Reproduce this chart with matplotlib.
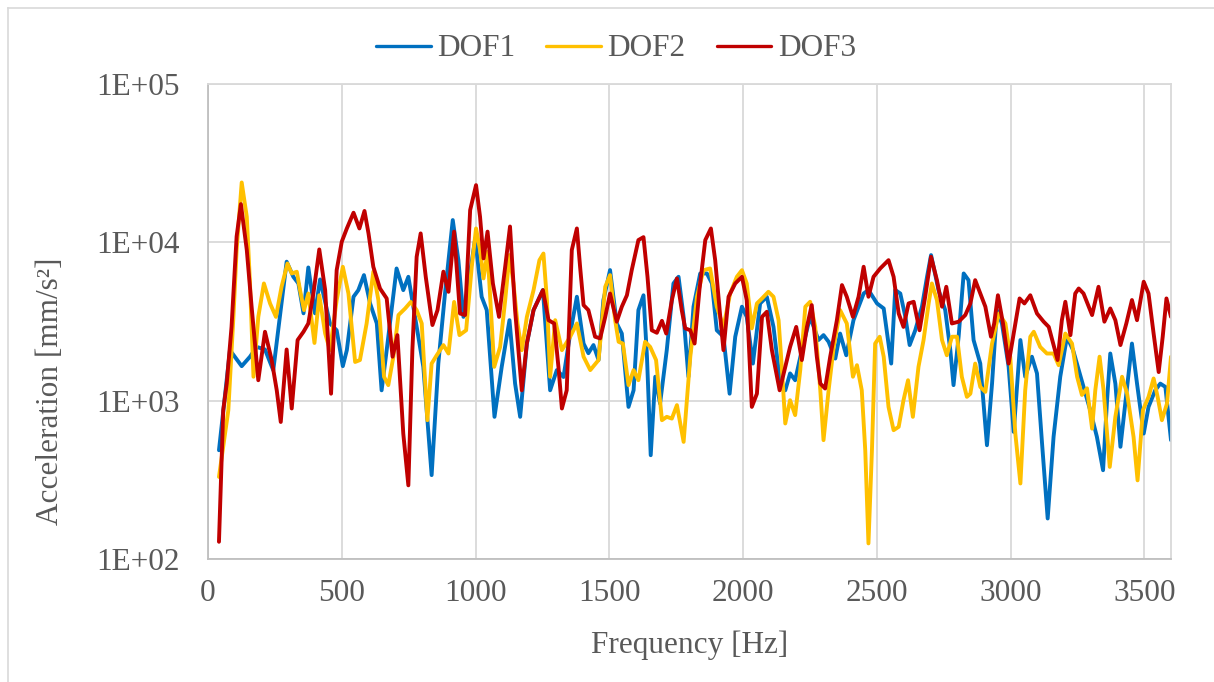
import math
import matplotlib
matplotlib.use("Agg")
import matplotlib.pyplot as plt
from matplotlib.ticker import FixedLocator, FuncFormatter
from matplotlib.lines import Line2D

# ---------------- data ----------------
f1 = [41, 82, 126, 157, 182, 213, 244, 294, 319, 338, 357, 375, 400, 419, 456, 481, 504, 519, 544, 562, 583, 606, 631,
      649, 668, 705, 730, 749, 780, 805, 836, 861, 886, 915, 936, 955, 999, 1023, 1042, 1071, 1098, 1127, 1148, 1167,
      1192, 1217, 1252, 1279, 1304, 1329, 1354, 1379, 1404, 1422, 1441, 1460, 1478, 1503, 1528, 1547, 1572, 1591, 1609,
      1628, 1641, 1655, 1672, 1690, 1715, 1740, 1759, 1778, 1796, 1815, 1840, 1865, 1884, 1902, 1927, 1950, 1971, 1996,
      2014, 2037, 2064, 2089, 2114, 2139, 2158, 2176, 2195, 2220, 2251, 2282, 2301, 2320, 2345, 2363, 2386, 2413, 2451,
      2469, 2501, 2526, 2554, 2569, 2588, 2607, 2623, 2644, 2669, 2688, 2703, 2731, 2756, 2775, 2787, 2806, 2825, 2843,
      2862, 2887, 2912, 2931, 2949, 2968, 2993, 3012, 3037, 3055, 3080, 3099, 3118, 3139, 3161, 3186, 3211, 3234, 3255,
      3273, 3298, 3323, 3346, 3361, 3373, 3392, 3411, 3429, 3454, 3473, 3498, 3516, 3541, 3560, 3579, 3600]
dof1 = [488, 2090, 1656, 1900, 2190, 2110, 1560, 7560, 6070, 5510, 3570, 6950, 3570, 5840, 3080, 2790, 1656, 2090,
        4540, 5000, 6220, 4120, 3080, 1166, 2090, 6850, 5000, 6070, 2930, 1640, 340, 1720, 4770, 13840, 7720, 3390,
        10600, 4540, 3740, 793, 1640, 3230, 1285, 793, 2300, 3740, 5010, 1166, 1564, 1415, 2660, 4540, 2300, 2000, 2250,
        1810, 4320, 6690, 3080, 2660, 916, 1166, 3740, 4640, 1900, 454, 1420, 962, 2090, 5510, 6070, 3390, 1420, 3930,
        6370, 6370, 5510, 2790, 2540, 1110, 2540, 3930, 3390, 1720, 4120, 4540, 2930, 1285, 1166, 1490, 1350, 2090, 3390,
        2420, 2600, 2360, 1850, 2660, 1940, 3230, 4760, 5010, 4120, 3830, 1720, 5010, 4760, 3390, 2250, 2790, 3930, 6070,
        8320, 5000, 3740, 2090, 1257, 2540, 6370, 5780, 2420, 1720, 525, 1285, 3740, 3080, 1640, 637, 2420, 1420, 1900,
        1490, 537, 181, 593, 1420, 2540, 2090, 1564, 1225, 873, 593, 365, 1010, 1990, 1285, 513, 962, 2300, 1285, 622,
        916, 1166, 1285, 1225, 565]

f2 = [41, 76, 95, 107, 126, 145, 157, 170, 188, 209, 232, 254, 275, 297, 313, 332, 344, 359, 375, 398, 416, 438, 456,
      481, 504, 525, 550, 568, 593, 618, 637, 658, 674, 693, 712, 737, 758, 780, 799, 820, 836, 855, 880, 899, 920, 940,
      965, 986, 1002, 1017, 1030, 1045, 1057, 1070, 1092, 1111, 1127, 1142, 1157, 1173, 1192, 1217, 1239, 1254, 1267,
      1279, 1298, 1323, 1354, 1379, 1404, 1429, 1460, 1485, 1503, 1522, 1535, 1551, 1572, 1591, 1609, 1634, 1653, 1675,
      1697, 1715, 1734, 1753, 1778, 1803, 1828, 1852, 1877, 1902, 1927, 1952, 1977, 1996, 2014, 2033, 2052, 2071, 2095,
      2114, 2133, 2145, 2158, 2176, 2195, 2214, 2233, 2251, 2270, 2289, 2301, 2320, 2339, 2363, 2388, 2411, 2426, 2444,
      2457, 2469, 2482, 2494, 2511, 2526, 2544, 2563, 2582, 2600, 2617, 2635, 2656, 2675, 2694, 2706, 2725, 2744, 2762,
      2781, 2800, 2818, 2837, 2850, 2868, 2887, 2906, 2931, 2956, 2981, 2999, 3018, 3037, 3055, 3074, 3087, 3111, 3136,
      3161, 3180, 3205, 3230, 3249, 3267, 3286, 3305, 3317, 3333, 3348, 3371, 3392, 3417, 3436, 3460, 3475, 3495, 3516,
      3535, 3550, 3566, 3585, 3600]
dof2 = [331, 873, 3390, 8960, 23900, 14500, 5510, 1420, 3390, 5510, 4120, 3390, 5250, 7360, 6370, 6530, 5000, 3740,
        4760, 2320, 4640, 2660, 2090, 4320, 7020, 4760, 1760, 1810, 3080, 6540, 4320, 1420, 1257, 1900, 3480, 3830,
        4210, 3740, 3080, 755, 1720, 1940, 2250, 1990, 4210, 2600, 2790, 7020, 12250, 8960, 5930, 8730, 3930, 1640,
        2190, 4320, 8320, 5510, 3080, 2090, 3390, 5000, 7730, 8510, 4320, 1420, 3230, 2090, 2540, 3080, 1900, 1564,
        1810, 5250, 6220, 3230, 2360, 2300, 1257, 1564, 1350, 2360, 2190, 1810, 755, 793, 773, 940, 551, 1900, 4540,
        6680, 6850, 3930, 2930, 4760, 6070, 6680, 5510, 2870, 4120, 4430, 4880, 4540, 3230, 1640, 720, 1010, 813, 1564,
        3930, 4220, 2930, 1166, 565, 1166, 2190, 3740, 3080, 1420, 1680, 1166, 488, 126, 488, 2300, 2540, 1900, 916,
        653, 686, 1010, 1350, 793, 1640, 2420, 4120, 5510, 4320, 2420, 1940, 2540, 2540, 1420, 1060, 1110, 1720, 1225,
        1140, 2300, 3560, 3080, 1900, 622, 301, 1166, 2540, 2730, 2190, 1990, 1990, 1680, 2660, 2300, 1420, 1090, 1200,
        668, 1166, 1900, 1166, 383, 793, 1420, 1110, 593, 315, 873, 1060, 1385, 1060, 755, 962, 1900]

f3 = [41, 57, 70, 88, 107, 123, 145, 163, 188, 213, 238, 257, 272, 294, 313, 335, 357, 375, 394, 416, 438, 460, 481,
      500, 519, 544, 566, 585, 600, 618, 643, 668, 690, 708, 730, 749, 764, 780, 795, 814, 839, 858, 880, 899, 920, 942,
      961, 980, 1002, 1017, 1030, 1045, 1065, 1088, 1111, 1129, 1148, 1173, 1192, 1217, 1252, 1273, 1294, 1310, 1323,
      1341, 1360, 1379, 1391, 1404, 1422, 1447, 1466, 1485, 1503, 1528, 1547, 1566, 1584, 1609, 1628, 1643, 1659, 1678,
      1697, 1713, 1734, 1753, 1771, 1784, 1803, 1819, 1837, 1859, 1880, 1896, 1915, 1927, 1946, 1971, 1996, 2014, 2033,
      2052, 2071, 2089, 2108, 2137, 2158, 2176, 2199, 2220, 2239, 2257, 2276, 2289, 2307, 2326, 2351, 2370, 2388, 2411,
      2432, 2451, 2469, 2488, 2513, 2544, 2563, 2582, 2600, 2619, 2638, 2660, 2681, 2703, 2725, 2744, 2760, 2781, 2806,
      2831, 2850, 2868, 2887, 2906, 2927, 2939, 2953, 2972, 2993, 3012, 3034, 3052, 3074, 3099, 3124, 3143, 3161, 3176,
      3192, 3205, 3224, 3242, 3255, 3273, 3305, 3329, 3351, 3373, 3392, 3411, 3433, 3454, 3473, 3498, 3516, 3535, 3554,
      3569, 3583, 3600]
dof3 = [129, 873, 1285, 2930, 10900, 17450, 8960, 3930, 1350, 2730, 1810, 1166, 736, 2110, 895, 2420, 2730, 3080,
        4760, 9030, 5000, 1110, 6680, 10100, 12250, 15400, 12250, 15800, 11400, 7020, 5120, 4430, 1900, 2600, 622, 293,
        2090, 8110, 11400, 6070, 3010, 3740, 6540, 4880, 11700, 3560, 3480, 16000, 23000, 14500, 7930, 11700, 5510,
        3390, 7020, 12600, 3740, 1166, 2300, 3740, 5000, 3230, 3080, 1640, 895, 1166, 8960, 12250, 7020, 4020, 3740,
        2540, 2480, 3390, 4760, 3160, 3930, 4640, 6680, 10350, 10800, 6070, 2790, 2690, 3200, 2660, 4320, 5930, 3740,
        2870, 2790, 2300, 5000, 10350, 12250, 7730, 3390, 2090, 4540, 5510, 6070, 4320, 916, 1110, 3390, 3650, 2090,
        1166, 1640, 2190, 2930, 1810, 2930, 4020, 1900, 1285, 1197, 1900, 3230, 5380, 4540, 3390, 4540, 7020, 4540,
        6070, 6850, 7730, 6070, 3560, 2930, 4120, 4220, 2790, 4540, 8120, 5780, 3930, 5250, 3080, 3160, 3480, 4120,
        5780, 4760, 3930, 2540, 3080, 4640, 3080, 1720, 2660, 4430, 4120, 4640, 3560, 3160, 2930, 2250, 1810, 3230,
        4220, 2600, 4760, 5120, 4760, 3480, 5250, 3160, 3830, 3230, 2250, 3080, 4330, 3230, 5650, 4760, 2660, 1520,
        2540, 4430, 3390]

series = [("DOF1", f1, dof1, "#0070C0"),
          ("DOF2", f2, dof2, "#FFC000"),
          ("DOF3", f3, dof3, "#C00000")]

x_ticks = [0, 500, 1000, 1500, 2000, 2500, 3000, 3500]
y_ticks = [1e2, 1e3, 1e4, 1e5]

# ---------------- plot ----------------
plt.rcParams['font.family'] = ['Liberation Serif', 'DejaVu Serif']
txt = "#595959"
FS = 22.5
W, H = 1214, 682
fig = plt.figure(figsize=(W / 100, H / 100), dpi=100)
ax = fig.add_axes([208 / W, 1 - 559.3 / H, (1171 - 208) / W, (559.3 - 84) / H])

for name, f, v, c in series:
    ax.plot(f, v, color=c, lw=2.8, label=name, solid_joinstyle='round', solid_capstyle='round')

ax.set_yscale('log')
ax.set_xlim(0, 3600)
ax.set_ylim(1e2, 1e5)
ax.xaxis.set_major_locator(FixedLocator(x_ticks))
ax.yaxis.set_major_locator(FixedLocator(y_ticks))
ax.yaxis.set_minor_locator(FixedLocator([]))
ax.yaxis.set_major_formatter(FuncFormatter(lambda v, p: "1E+%02d" % round(math.log10(v))))
ax.grid(True, which='major', color='#D9D9D9', lw=1.3)
ax.set_axisbelow(True)
for s in ax.spines.values():
    s.set_color('#D9D9D9')
    s.set_linewidth(1.3)
ax.spines['left'].set_color('#BFBFBF')
ax.spines['bottom'].set_color('#BFBFBF')
ax.tick_params(axis='x', which='both', length=0, labelsize=FS, colors=txt, pad=14)
ax.tick_params(axis='y', which='both', length=0, labelsize=FS, colors=txt, pad=20)

ax.set_xlabel("Frequency [Hz]", fontsize=FS, color=txt)
ax.xaxis.label.set_va('center')
ax.xaxis.set_label_coords(0.5, (559.3 - 645) / (559.3 - 84))
ax.set_ylabel("Acceleration [mm/s²]", fontsize=FS, color=txt)
ax.yaxis.label.set_va('center')
ax.yaxis.set_label_coords((50 - 208) / (1171 - 208), (559.3 - 391) / (559.3 - 84))

leg = fig.legend(loc='center', bbox_to_anchor=(616 / W, 1 - 49 / H), ncol=3, frameon=False,
                 fontsize=FS, handlelength=1.75, columnspacing=1.0, handletextpad=0.2)
for t in leg.get_texts():
    t.set_color(txt)
for h in leg.legend_handles:
    h.set_linewidth(2.4)

# chart-area border (top and left edges visible)
fig.add_artist(Line2D([8 / W, 1], [1 - 7.5 / H, 1 - 7.5 / H], transform=fig.transFigure, color='#D9D9D9', lw=1.2))
fig.add_artist(Line2D([8 / W, 8 / W], [0, 1 - 7.5 / H], transform=fig.transFigure, color='#D9D9D9', lw=1.2))

fig.savefig("out.png", dpi=100)
